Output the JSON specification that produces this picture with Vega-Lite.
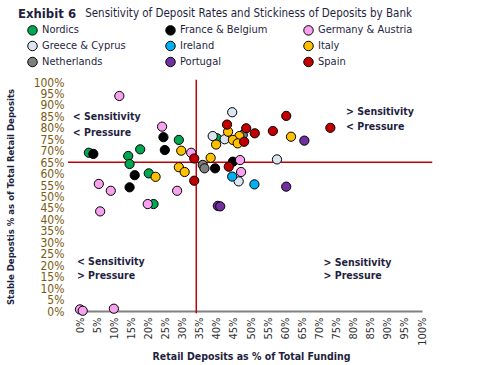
{
  "$schema": "https://vega.github.io/schema/vega-lite/v6.json",
  "width": 342,
  "height": 229,
  "autosize": {"type": "none"},
  "padding": {"left": 80, "top": 82, "right": 76, "bottom": 54},
  "config": {"font": "DejaVu Sans Condensed, Liberation Sans, sans-serif", "view": {"stroke": null}},
  "title": {"text": "Exhibit 6", "anchor": "start", "frame": "group", "dx": -62, "offset": -13, "fontSize": 13, "fontWeight": "bold", "font": "DejaVu Sans Condensed, Liberation Sans, sans-serif", "color": "#1f1f3f"},
  "datasets": {
    "banks": [
      {"region": "Nordics", "x": 2.6, "y": 69.1},
      {"region": "Nordics", "x": 14.1, "y": 67.7},
      {"region": "Nordics", "x": 14.5, "y": 64.2},
      {"region": "Nordics", "x": 17.6, "y": 70.6},
      {"region": "Nordics", "x": 28.9, "y": 74.7},
      {"region": "Nordics", "x": 20.1, "y": 60.1},
      {"region": "Nordics", "x": 21.5, "y": 46.7},
      {"region": "Nordics", "x": 40.1, "y": 75.4},
      {"region": "France & Belgium", "x": 3.9, "y": 68.6},
      {"region": "France & Belgium", "x": 24.4, "y": 75.9},
      {"region": "France & Belgium", "x": 24.8, "y": 70.3},
      {"region": "France & Belgium", "x": 16.0, "y": 59.3},
      {"region": "France & Belgium", "x": 14.5, "y": 54.0},
      {"region": "France & Belgium", "x": 39.5, "y": 62.3},
      {"region": "France & Belgium", "x": 44.7, "y": 65.2},
      {"region": "Germany & Austria", "x": 11.5, "y": 93.9},
      {"region": "Germany & Austria", "x": 24.0, "y": 80.5},
      {"region": "Germany & Austria", "x": 32.5, "y": 69.1},
      {"region": "Germany & Austria", "x": 5.5, "y": 55.5},
      {"region": "Germany & Austria", "x": 9.0, "y": 52.5},
      {"region": "Germany & Austria", "x": 5.9, "y": 43.5},
      {"region": "Germany & Austria", "x": 19.8, "y": 46.7},
      {"region": "Germany & Austria", "x": 28.4, "y": 52.5},
      {"region": "Germany & Austria", "x": 46.8, "y": 65.9},
      {"region": "Germany & Austria", "x": 47.1, "y": 60.7},
      {"region": "Germany & Austria", "x": 0.0, "y": 0.7},
      {"region": "Germany & Austria", "x": 0.8, "y": 0.1},
      {"region": "Germany & Austria", "x": 9.9, "y": 1.0},
      {"region": "Greece & Cyprus", "x": 44.5, "y": 86.8},
      {"region": "Greece & Cyprus", "x": 38.8, "y": 76.4},
      {"region": "Greece & Cyprus", "x": 42.3, "y": 75.0},
      {"region": "Greece & Cyprus", "x": 57.6, "y": 66.2},
      {"region": "Greece & Cyprus", "x": 46.4, "y": 56.6},
      {"region": "Ireland", "x": 44.5, "y": 58.7},
      {"region": "Ireland", "x": 51.0, "y": 55.3},
      {"region": "Netherlands", "x": 47.6, "y": 76.9},
      {"region": "Netherlands", "x": 35.9, "y": 63.8},
      {"region": "Netherlands", "x": 36.4, "y": 62.3},
      {"region": "Italy", "x": 29.6, "y": 70.0},
      {"region": "Italy", "x": 28.9, "y": 62.8},
      {"region": "Italy", "x": 30.6, "y": 60.7},
      {"region": "Italy", "x": 22.1, "y": 58.6},
      {"region": "Italy", "x": 43.3, "y": 78.3},
      {"region": "Italy", "x": 46.6, "y": 76.4},
      {"region": "Italy", "x": 44.7, "y": 74.7},
      {"region": "Italy", "x": 46.1, "y": 73.2},
      {"region": "Italy", "x": 39.8, "y": 72.7},
      {"region": "Italy", "x": 38.2, "y": 66.9},
      {"region": "Italy", "x": 61.7, "y": 76.1},
      {"region": "Portugal", "x": 65.6, "y": 74.4},
      {"region": "Portugal", "x": 60.3, "y": 54.3},
      {"region": "Portugal", "x": 40.3, "y": 45.9},
      {"region": "Portugal", "x": 41.0, "y": 45.7},
      {"region": "Spain", "x": 43.0, "y": 81.4},
      {"region": "Spain", "x": 48.6, "y": 79.8},
      {"region": "Spain", "x": 51.1, "y": 77.6},
      {"region": "Spain", "x": 56.4, "y": 78.6},
      {"region": "Spain", "x": 60.3, "y": 85.2},
      {"region": "Spain", "x": 73.2, "y": 80.0},
      {"region": "Spain", "x": 48.0, "y": 73.9},
      {"region": "Spain", "x": 33.4, "y": 66.6},
      {"region": "Spain", "x": 33.4, "y": 56.9},
      {"region": "Spain", "x": 43.5, "y": 63.0}
    ],
    "refs": [
      {"x": -3.5, "x2": 103, "y": 65, "y2": 65},
      {"x": 34, "x2": 34, "y": -1, "y2": 101}
    ],
    "notes": [
      {"label": "< Sensitivity", "x": -2.1, "y": 84.6},
      {"label": "< Pressure", "x": -2.1, "y": 77.9},
      {"label": "> Sensitivity", "x": 77.8, "y": 87.0},
      {"label": "< Pressure", "x": 77.8, "y": 80.2},
      {"label": "< Sensitivity", "x": -0.9, "y": 21.3},
      {"label": "> Pressure", "x": -0.9, "y": 15.3},
      {"label": "> Sensitivity", "x": 71.2, "y": 21.1},
      {"label": "> Pressure", "x": 71.2, "y": 15.3}
    ]
  },
  "encoding": {
    "x": {
      "field": "x", "type": "quantitative",
      "scale": {"domain": [0, 100], "nice": false, "zero": false},
      "axis": {
        "values": [0,5,10,15,20,25,30,35,40,45,50,55,60,65,70,75,80,85,90,95,100],
        "labelExpr": "datum.value + '%'",
        "labelAngle": -90, "labelFontSize": 11, "labelColor": "#333333", "labelPadding": 6,
        "labelOverlap": false, "labelFlush": false,
        "ticks": false, "grid": false, "domainColor": "#808080", "domainWidth": 2,
        "title": "Retail Deposits as % of Total Funding", "titleFontSize": 10.5, "titleFontWeight": "bold", "titleColor": "#1f1f3f", "titlePadding": 6
      }
    },
    "y": {
      "field": "y", "type": "quantitative",
      "scale": {"domain": [0, 100], "nice": false, "zero": false},
      "axis": {
        "values": [0,5,10,15,20,25,30,35,40,45,50,55,60,65,70,75,80,85,90,95,100],
        "labelExpr": "datum.value + '%'",
        "labelFontSize": 12, "labelColor": "#7a5a10", "labelPadding": 16,
        "labelOverlap": false, "labelFlush": false,
        "ticks": false, "grid": false, "domain": false,
        "title": "Stable Depostis % as of Total Retail Deposits", "titleFontSize": 9.5, "titleFontWeight": "bold", "titleColor": "#1f1f3f", "titlePadding": 18
      }
    }
  },
  "layer": [
    {
      "data": {"name": "refs"},
      "mark": {"type": "rule", "color": "#c00000", "strokeWidth": 1.5},
      "encoding": {"x2": {"field": "x2"}, "y2": {"field": "y2"}}
    },
    {
      "data": {"name": "banks"},
      "mark": {"type": "point", "shape": "circle", "filled": true, "size": 85, "stroke": "#000000", "strokeWidth": 1, "opacity": 1},
      "encoding": {
        "color": {
          "field": "region", "type": "nominal",
          "scale": {
            "domain": ["Nordics", "France & Belgium", "Germany & Austria", "Greece & Cyprus", "Ireland", "Italy", "Netherlands", "Portugal", "Spain"],
            "range": ["#00a651", "#000000", "#f7a1ef", "#dce6f2", "#00b0f0", "#ffc000", "#7f7f7f", "#7030a0", "#c00000"]
          },
          "legend": {
            "orient": "none", "legendX": -53, "legendY": -74, "columns": 3, "direction": "horizontal", "gridAlign": "all",
            "columnPadding": 26, "rowPadding": 1, "padding": 0,
            "symbolType": "circle", "symbolSize": 90, "symbolStrokeColor": "#000000", "symbolStrokeWidth": 1, "symbolOpacity": 1,
            "labelFontSize": 11, "labelOffset": 4, "labelColor": "#1f1f3f", "labelLimit": 300,
            "title": "Sensitivity of Deposit Rates and Stickiness of Deposits by Bank",
            "titleAnchor": "end", "titleLimit": 500, "titleFontSize": 11.5, "titleFontWeight": "normal", "titleColor": "#1f1f3f", "titlePadding": 5
          }
        }
      }
    },
    {
      "data": {"name": "notes"},
      "mark": {"type": "text", "align": "left", "baseline": "middle", "fontSize": 10.5, "fontWeight": "bold", "color": "#1f1f3f"},
      "encoding": {"text": {"field": "label"}}
    }
  ]
}
